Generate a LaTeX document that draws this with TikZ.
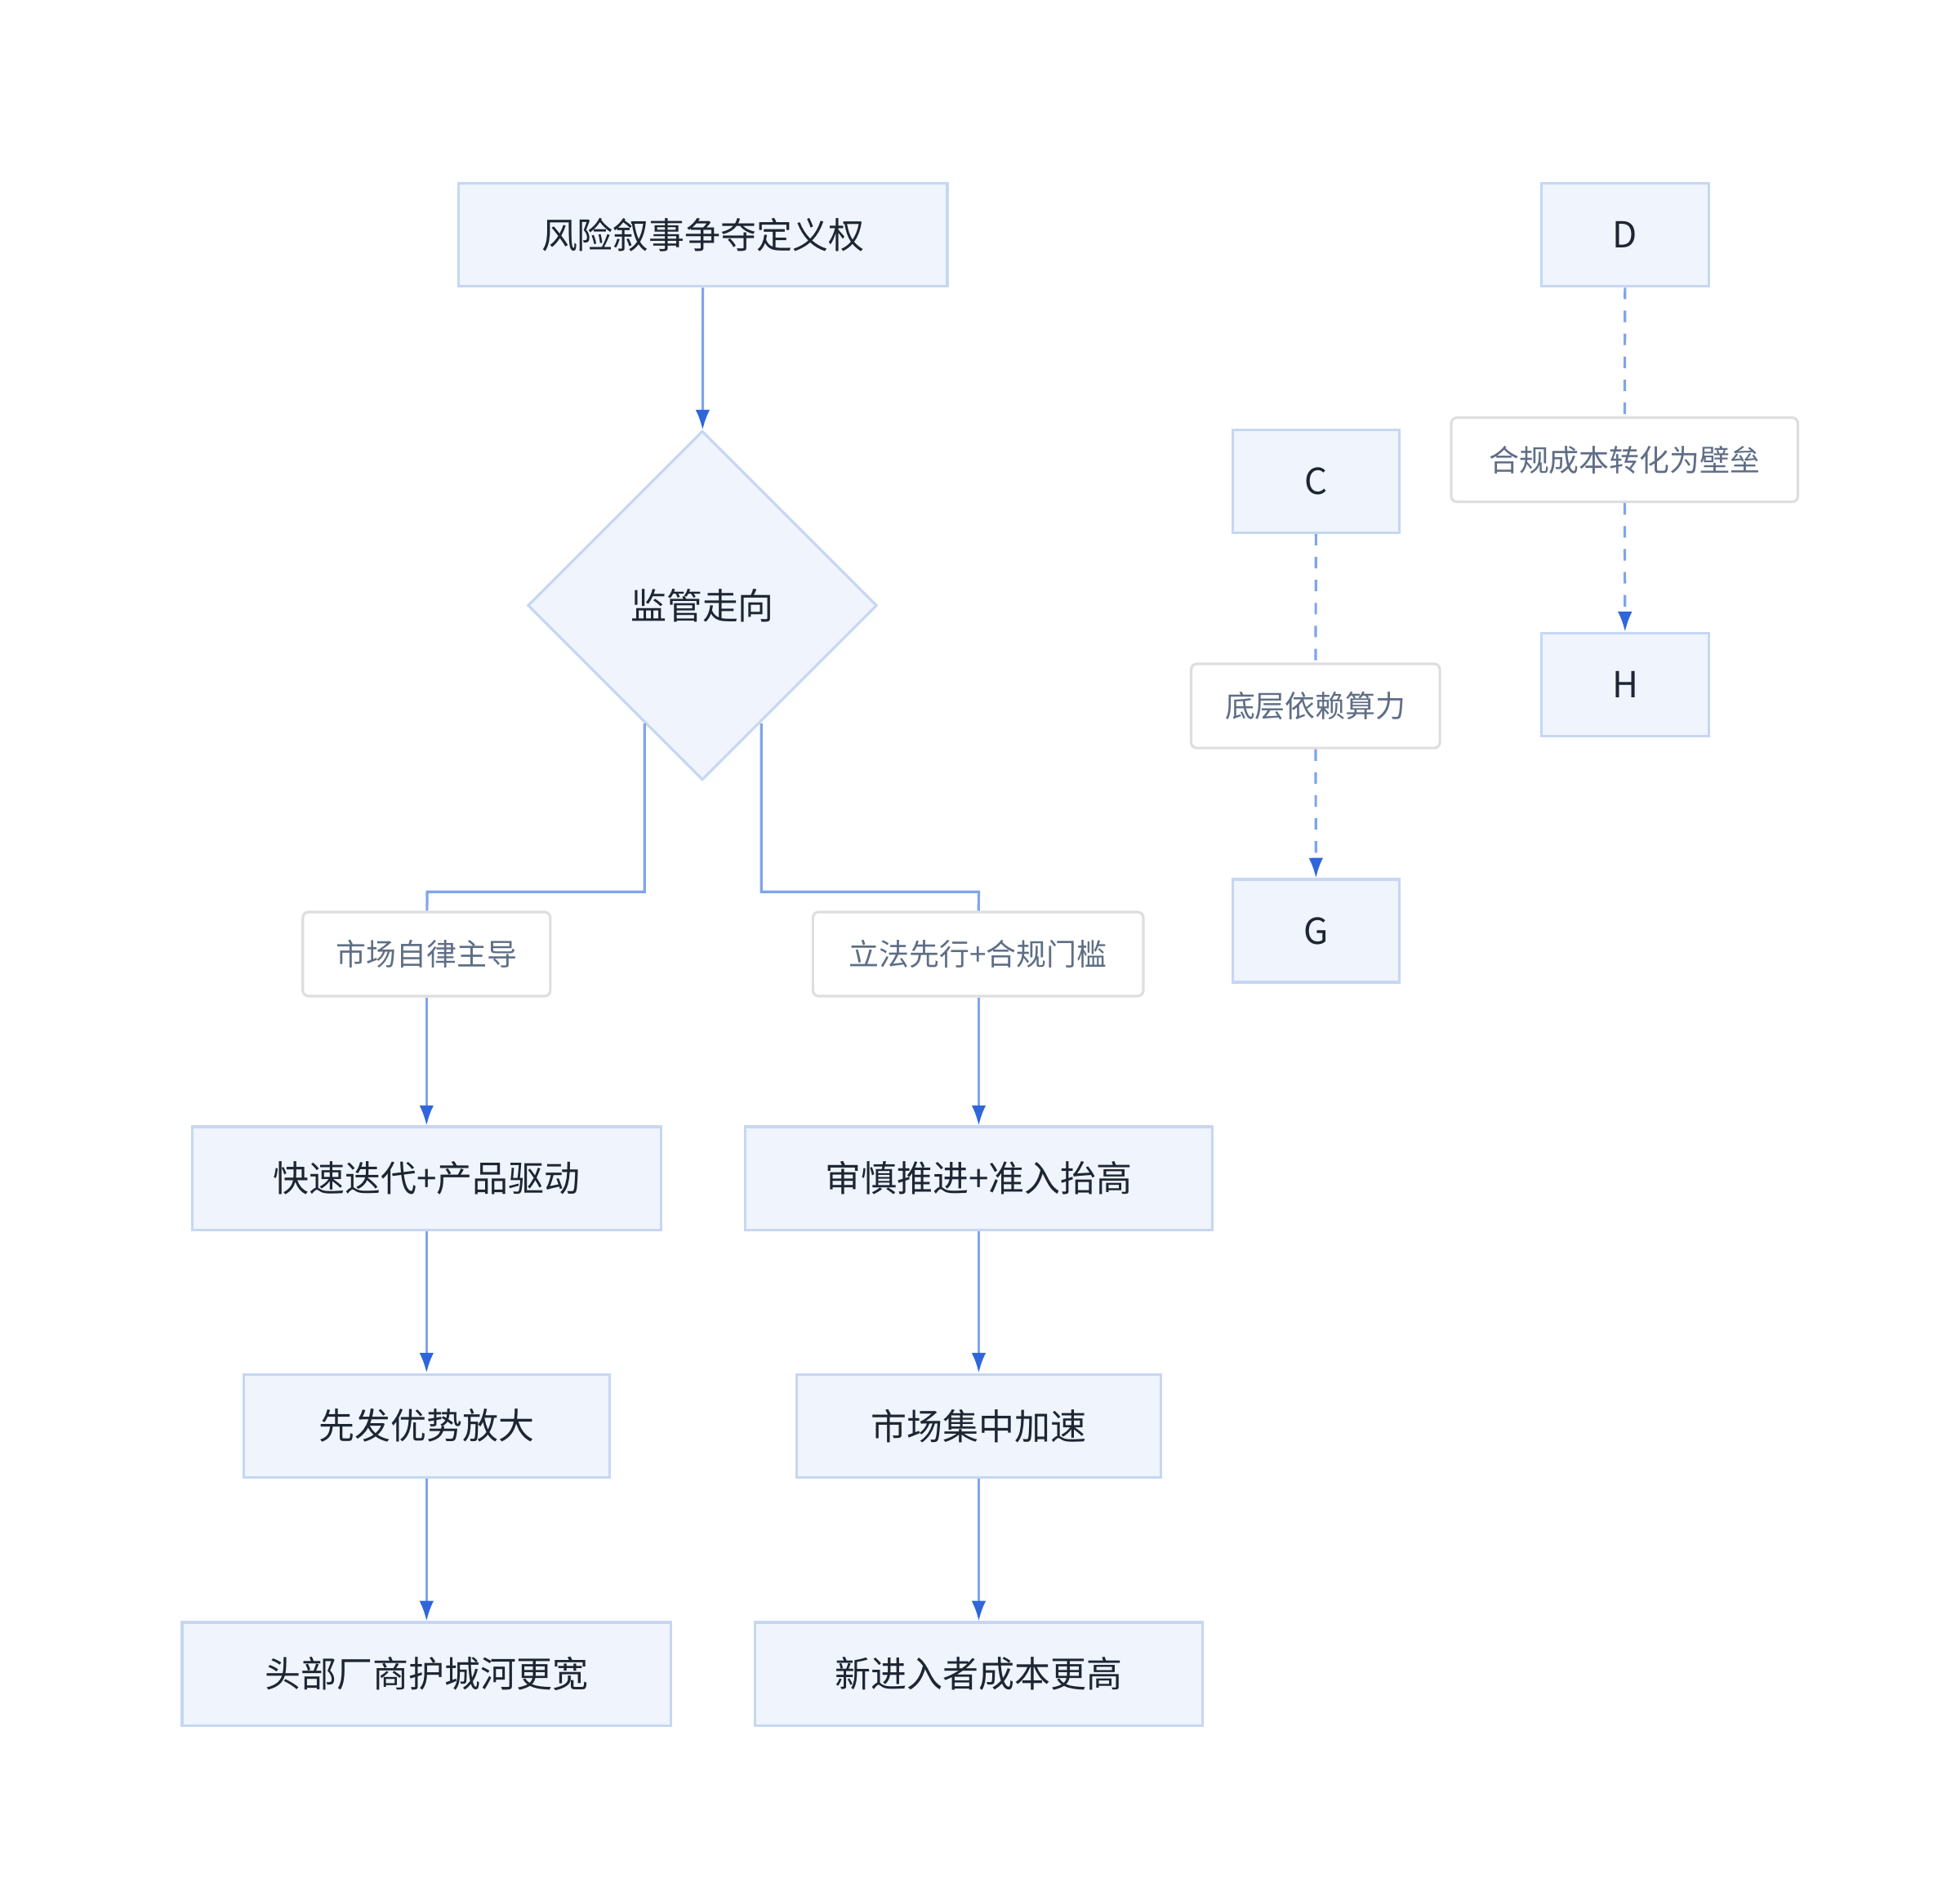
\documentclass[tikz,border=0pt]{standalone}
\usepackage{fontspec}
\setmainfont{Noto Sans CJK SC}
\usetikzlibrary{shapes.geometric,arrows.meta}
\definecolor{bfill}{HTML}{EFF4FD}
\definecolor{bline}{HTML}{C6D7F2}
\definecolor{edge}{HTML}{7FA5EA}
\definecolor{tip}{HTML}{2F66DB}
\definecolor{ttext}{HTML}{1E2533}
\definecolor{ltext}{HTML}{5F6E86}
\begin{document}
\begin{tikzpicture}[x=0.015385cm,y=-0.015385cm,
 box/.style={draw=bline,fill=bfill,line width=0.9pt,text=ttext,font=\fontsize{12.5}{14}\selectfont,minimum height=82*0.015385cm,inner sep=0},
 lab/.style={draw=black!13,fill=white,line width=0.9pt,rounded corners=2pt,text=ltext,font=\fontsize{10.5}{12}\selectfont,minimum height=67*0.015385cm,inner sep=0},
 ln/.style={draw=edge,line width=0.9pt},
 ar/.style={ln,-{Latex[length=7pt,width=5pt,color=tip]}},
 da/.style={dash pattern=on 4pt off 4pt}]
\useasboundingbox (0,0) rectangle (1560,1512);
\node[box,minimum width=389*0.015385cm] (a) at (559.5,187) {风险叙事争夺定义权};
\node[draw=bline,fill=bfill,line width=0.9pt,diamond,minimum width=278*0.015385cm,minimum height=278*0.015385cm,inner sep=0,text=ttext,font=\fontsize{12.5}{14}\selectfont] (q) at (559,482) {监管走向};
\node[lab,minimum width=197*0.015385cm] (l1) at (339.5,759.5) {市场自律主导};
\node[lab,minimum width=263*0.015385cm] (l2) at (778.5,759.5) {立法先行+合规门槛};
\node[box,minimum width=373*0.015385cm] (b1) at (339.5,938) {快速迭代+产品驱动};
\node[box,minimum width=372*0.015385cm] (b2) at (779,938) {审慎推进+准入抬高};
\node[box,minimum width=291*0.015385cm] (c1) at (339.5,1135) {先发优势放大};
\node[box,minimum width=290*0.015385cm] (c2) at (779,1135) {市场集中加速};
\node[box,minimum width=389*0.015385cm] (d1) at (339.5,1332.5) {头部厂商护城河更宽};
\node[box,minimum width=356*0.015385cm] (d2) at (779,1332.5) {新进入者成本更高};
\node[box,minimum width=133*0.015385cm] (C) at (1047.5,383) {C};
\node[lab,minimum width=198*0.015385cm] (lc) at (1047,562) {底层依赖算力};
\node[box,minimum width=133*0.015385cm] (G) at (1047.5,741) {G};
\node[box,minimum width=133*0.015385cm] (D) at (1293.5,187) {D};
\node[lab,minimum width=276*0.015385cm] (ld) at (1293,366) {合规成本转化为壁垒};
\node[box,minimum width=133*0.015385cm] (H) at (1293.5,545) {H};
\coordinate (s1) at (513,576);
\coordinate (s2) at (606,576);
\draw[ar] (a) -- (q);
\draw[ln] (s1) |- (340,710) -- (l1);
\draw[ln] (s2) |- (779,710) -- (l2);
\draw[ar] (l1) -- (b1);
\draw[ar] (l2.south -| b2) -- (b2);
\draw[ar] (b1) -- (c1);
\draw[ar] (b2) -- (c2);
\draw[ar] (c1) -- (d1);
\draw[ar] (c2) -- (d2);
\draw[ln,da] (C) -- (lc);
\draw[ar,da] (lc) -- (G);
\draw[ln,da] (D) -- (ld);
\draw[ar,da] (ld) -- (H);
\end{tikzpicture}
\end{document}
